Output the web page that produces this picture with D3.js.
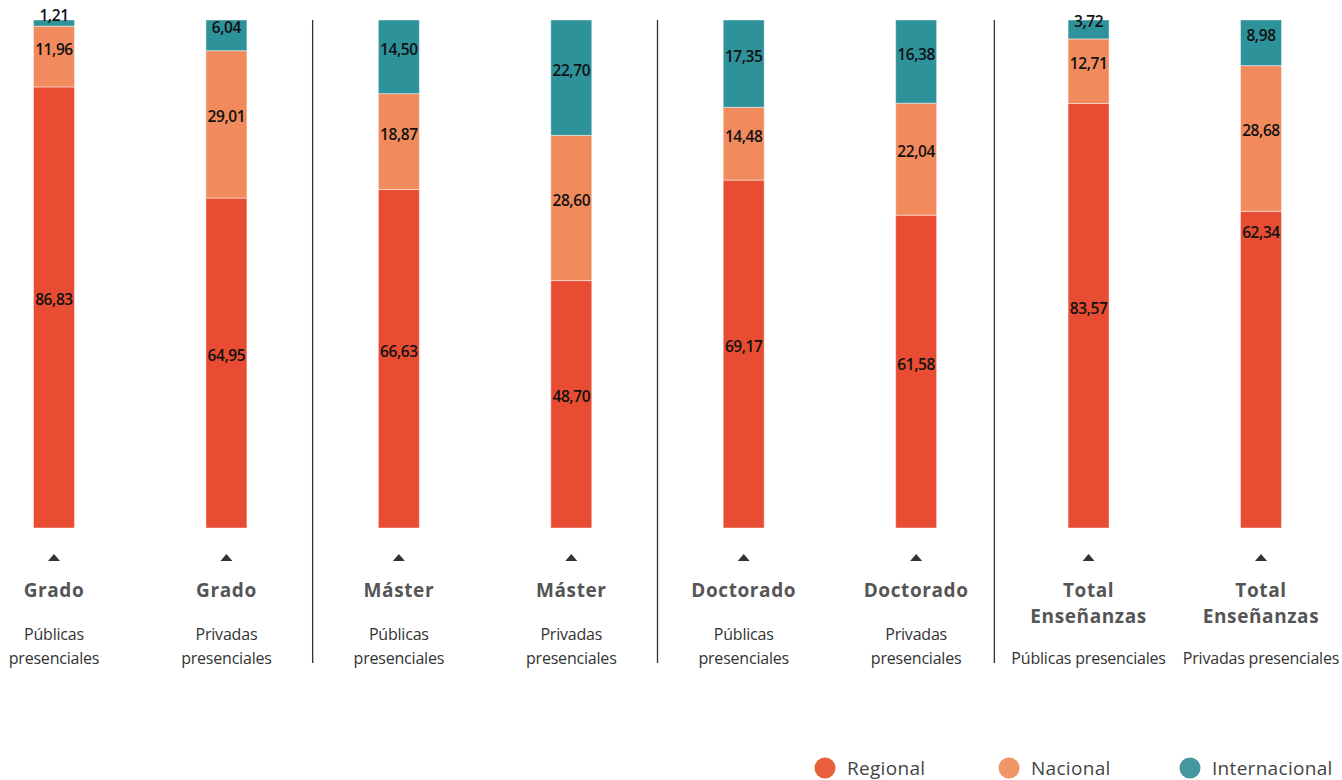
<!DOCTYPE html>
<html><head><meta charset="utf-8">
<script src="https://cdn.jsdelivr.net/npm/d3@7/dist/d3.min.js"></script>
<style>body{margin:0;background:#fff}svg{display:block}</style>
</head><body>
<svg id="c" width="1342" height="780"></svg>
<script>
const levels = ["Grado","Grado","Máster","Máster","Doctorado","Doctorado","Total Enseñanzas","Total Enseñanzas"];
const sectors = ["Públicas presenciales","Privadas presenciales","Públicas presenciales","Privadas presenciales","Públicas presenciales","Privadas presenciales","Públicas presenciales","Privadas presenciales"];
const regional = [86.83,64.95,66.63,48.70,69.17,61.58,83.57,62.34];
const nacional = [11.96,29.01,18.87,28.60,14.48,22.04,12.71,28.68];
const internacional = [1.21,6.04,14.50,22.70,17.35,16.38,3.72,8.98];
const seriesNames = ["Regional","Nacional","Internacional"];
const colors = ["#E84D33","#F18B5D","#2E929B"];
const legendColors = ["#E8603C","#F0956A","#46969F"];

const svg = d3.select("#c");
const idx = d3.range(levels.length);
const x = d3.scalePoint().domain(idx).range([54,1261]);
const y = d3.scaleLinear().domain([0,1]).range([528,20]);
const bw = 41;

const rows = idx.map(i => ({i, Regional: regional[i], Nacional: nacional[i], Internacional: internacional[i]}));
const stacked = d3.stack().keys(seriesNames).offset(d3.stackOffsetExpand)(rows);
const raw = [regional, nacional, internacional];

const fmt = v => v.toFixed(2).replace(".", ",");

// separators
[[1,0],[3,0],[5,-8]].forEach(([k,off]) => {
  const sx = (x(k)+x(k+1))/2 + off;
  svg.append("line").attr("x1",sx).attr("x2",sx).attr("y1",20).attr("y2",663)
    .attr("stroke","#333").attr("stroke-width",1.3);
});

stacked.forEach((s,si) => {
  const g = svg.append("g");
  g.selectAll("rect").data(s).join("rect")
    .attr("x", d => x(d.data.i)-bw/2)
    .attr("width", bw)
    .attr("y", d => y(d[1]))
    .attr("height", d => y(d[0])-y(d[1]))
    .attr("fill", colors[si])
    .attr("stroke","rgba(255,255,255,0.45)").attr("stroke-width",1);
  g.selectAll("text").data(s).join("text")
    .attr("x", d => x(d.data.i))
    .attr("y", d => {
      if (si===0 && d.data.i===7) return y(d[1])+27;
      return (y(d[0])+y(d[1]))/2 - 2;
    })
    .attr("text-anchor","middle")
    .attr("font-family","'Open Sans', sans-serif")
    .attr("font-size",15.5).attr("font-weight",600)
    .attr("letter-spacing","-0.4")
    .attr("fill","#111")
    .text(d => fmt(raw[si][d.data.i]));
});

// triangles + labels
idx.forEach(i => {
  const cx = x(i);
  svg.append("path").attr("d",`M${cx-6},561 L${cx+6},561 L${cx},554 Z`).attr("fill","#333");
  const words = levels[i].split(" ");
  words.forEach((w,k) => {
    svg.append("text").attr("x",cx).attr("y",597+k*26)
      .attr("text-anchor","middle").attr("font-family","'Open Sans', sans-serif")
      .attr("font-size",19).attr("font-weight",700).attr("letter-spacing","0.6").attr("fill","#555").text(w);
  });
  const sub = words.length>1 ? [sectors[i]] : sectors[i].split(" ");
  const y0 = sub.length>1 ? 640 : 664;
  sub.forEach((w,k) => {
    svg.append("text").attr("x",cx).attr("y",y0+k*24)
      .attr("text-anchor","middle").attr("font-family","'Open Sans', sans-serif")
      .attr("font-size",16).attr("letter-spacing","-0.2").attr("fill","#333").text(w);
  });
});

// legend
const lx = [825,1009,1190];
seriesNames.forEach((n,k) => {
  svg.append("circle").attr("cx",lx[k]).attr("cy",768).attr("r",10.5).attr("fill",legendColors[k]);
  svg.append("text").attr("x",lx[k]+22).attr("y",775).attr("font-family","'Open Sans', sans-serif")
    .attr("font-size",19).attr("letter-spacing","0.3").attr("fill","#444").text(n);
});
</script>
</body></html>
